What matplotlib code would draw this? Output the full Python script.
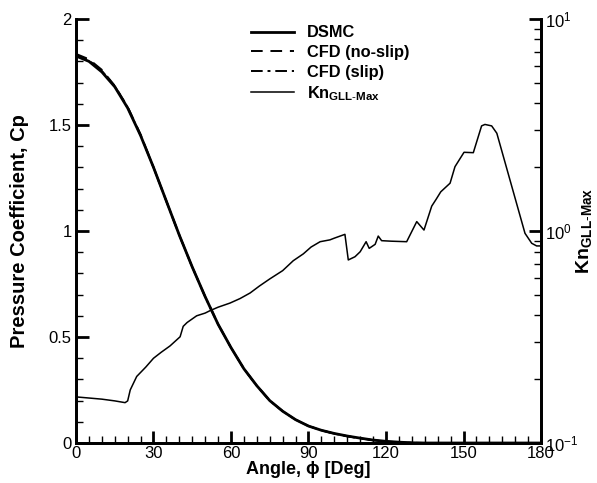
import matplotlib
matplotlib.use('Agg')
import matplotlib.pyplot as plt
from matplotlib.ticker import MultipleLocator, NullFormatter, LogLocator, FormatStrFormatter

plt.rcParams['font.family'] = ['Liberation Sans', 'DejaVu Sans']
plt.rcParams['mathtext.fontset'] = 'custom'
plt.rcParams['mathtext.rm'] = 'Liberation Sans'
plt.rcParams['mathtext.bf'] = 'Liberation Sans:bold'

# surface pressure coefficient along the body, angle in degrees
ang_cp = [0, 5, 10, 15, 20, 25, 30, 35, 40, 45, 50, 55, 60, 65, 70, 75, 80, 85,
          90, 95, 100, 105, 110, 115, 120, 125, 130, 135, 180]
cp_dsmc = [1.825, 1.80, 1.75, 1.68, 1.58, 1.45, 1.30, 1.14, 0.98, 0.83, 0.69, 0.56,
           0.45, 0.35, 0.27, 0.20, 0.15, 0.11, 0.08, 0.06, 0.045, 0.033, 0.023,
           0.014, 0.008, 0.004, 0.001, 0.0, 0.0]
cp_noslip = [1.835, 1.81, 1.76, 1.685, 1.585, 1.455, 1.30, 1.14, 0.98, 0.83, 0.69, 0.56,
             0.45, 0.35, 0.27, 0.20, 0.15, 0.11, 0.08, 0.06, 0.044, 0.032, 0.022,
             0.013, 0.007, 0.003, 0.001, 0.0, 0.0]
cp_slip = [1.83, 1.805, 1.755, 1.683, 1.582, 1.452, 1.30, 1.14, 0.98, 0.83, 0.69, 0.56,
           0.45, 0.35, 0.27, 0.20, 0.15, 0.11, 0.08, 0.06, 0.044, 0.032, 0.022,
           0.013, 0.007, 0.003, 0.001, 0.0, 0.0]

# maximum gradient-length local Knudsen number
ang_kn = [0, 5, 10, 15, 19, 20, 21, 23.5, 27, 30, 33, 36.4, 40.3, 41.5, 43, 46.7,
          50, 51.9, 55, 59.6, 63.5, 67.4, 71, 75, 80, 84.1, 88, 91, 94.5, 98.3,
          100, 104.1, 105.4, 108, 110, 112.3, 113.5, 115.8, 117, 118.3, 122, 128,
          131.9, 134.7, 137.7, 139.4, 141.2, 144.8, 146.7, 150.2, 153.8, 157,
          158.3, 160.9, 162.9, 173.8, 176.4, 178.3, 180]
kn_max = [0.165, 0.163, 0.161, 0.158, 0.155, 0.158, 0.178, 0.206, 0.228, 0.251,
          0.268, 0.287, 0.317, 0.355, 0.37, 0.398, 0.41, 0.421, 0.437, 0.457,
          0.48, 0.51, 0.55, 0.594, 0.65, 0.724, 0.78, 0.84, 0.89, 0.908, 0.925,
          0.964, 0.73, 0.756, 0.798, 0.89, 0.828, 0.865, 0.946, 0.90, 0.895, 0.89,
          1.107, 1.01, 1.31, 1.41, 1.53, 1.68, 2.01, 2.35, 2.34, 3.13, 3.18, 3.13,
          2.89, 0.975, 0.875, 0.85, 0.85]

fig = plt.figure(figsize=(5.97, 4.83), dpi=100)
ax = fig.add_axes([0.1273, 0.0828, 0.7789, 0.878])
ax2 = ax.twinx()

l1, = ax.plot(ang_cp, cp_dsmc, color='black', lw=2.0, ls='-')
l2, = ax.plot(ang_cp, cp_noslip, color='black', lw=1.4, ls=(0, (6, 4)))
l3, = ax.plot(ang_cp, cp_slip, color='black', lw=1.4, ls=(0, (6, 2.5, 1.5, 2.5)))
l4, = ax2.plot(ang_kn, kn_max, color='black', lw=1.1, ls='-')

ax.set_xlim(0, 180)
ax.set_ylim(0, 2)
ax2.set_yscale('log')
ax2.set_ylim(0.1, 10)

ax.xaxis.set_major_locator(MultipleLocator(30))
ax.xaxis.set_minor_locator(MultipleLocator(5))
ax.yaxis.set_major_locator(MultipleLocator(0.5))
ax.yaxis.set_minor_locator(MultipleLocator(0.1))
ax.yaxis.set_major_formatter(FormatStrFormatter('%g'))
ax2.yaxis.set_major_locator(LogLocator(base=10, numticks=5))
ax2.yaxis.set_minor_locator(LogLocator(base=10, subs=range(2, 10), numticks=20))
ax2.yaxis.set_minor_formatter(NullFormatter())

for a in (ax, ax2):
    a.spines['top'].set_visible(False)
    for s in ('left', 'right', 'bottom'):
        a.spines[s].set_linewidth(2)

ax.tick_params(axis='both', which='major', direction='in', length=9, width=2,
               labelsize=12, top=False, right=False)
ax.tick_params(axis='both', which='minor', direction='in', length=5, width=1,
               top=False, right=False)
ax.tick_params(axis='x', pad=2)
ax.tick_params(axis='y', pad=3)
ax2.tick_params(axis='y', which='major', direction='in', length=9, width=2,
                labelsize=12, pad=3)
ax2.tick_params(axis='y', which='minor', direction='in', length=5, width=1)

ax.set_xlabel('Angle, \u03d5 [Deg]', fontsize=13, fontweight='bold', labelpad=0)
ax.set_ylabel('Pressure Coefficient, Cp', fontsize=14.5, fontweight='bold')
ax.yaxis.set_label_coords(-0.100, 0.5)
ax2.set_ylabel(r'$\mathbf{Kn}_{\mathbf{GLL\text{-}Max}}$', fontsize=14)
ax2.yaxis.set_label_coords(1.073, 0.5)

leg = fig.legend([l1, l2, l3, l4],
                 ['DSMC', 'CFD (no-slip)', 'CFD (slip)',
                  r'Kn$_{\mathbf{GLL\text{-}Max}}$'],
                 loc='upper left', bbox_to_anchor=(0.396, 0.978), frameon=False,
                 handlelength=2.6, handletextpad=0.8, labelspacing=0.28,
                 prop={'weight': 'bold', 'size': 11.8})

fig.savefig('out.png', dpi=100)
